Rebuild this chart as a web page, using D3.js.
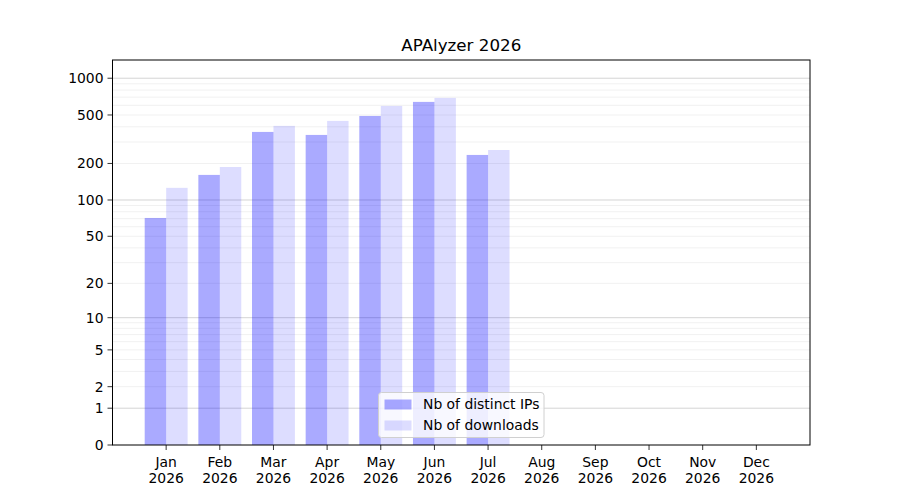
<!DOCTYPE html>
<html>
<head>
<meta charset="utf-8">
<script src="https://cdn.jsdelivr.net/npm/d3@7"></script>
<style>
  body { margin: 0; background: white; }
  svg { font-family: "DejaVu Sans", sans-serif; }
</style>
</head>
<body>
<div id="chart"></div>
<script>
const months = ["Jan", "Feb", "Mar", "Apr", "May", "Jun", "Jul", "Aug", "Sep", "Oct", "Nov", "Dec"]
const year = "2026"
const distinctIps = [71, 161, 363, 343, 491, 640, 235, 0, 0, 0, 0, 0]
const downloads = [126, 187, 407, 447, 593, 690, 258, 0, 0, 0, 0, 0]
const yTicks = [0, 1, 2, 5, 10, 20, 50, 100, 200, 500, 1000]
const majorGrid = [1, 10, 100, 1000]
const minorGrid = [2, 3, 4, 5, 6, 7, 8, 9, 20, 30, 40, 50, 60, 70, 80, 90, 200, 300, 400, 500, 600, 700, 800, 900]
const seriesNames = ["Nb of distinct IPs", "Nb of downloads"]

const width = 900, height = 500
const margin = {top: 60, right: 90, bottom: 55, left: 112.5}
const barWidth = 0.4

const svg = d3.select("#chart").append("svg")
  .attr("width", width)
  .attr("height", height)

// log10(1 + v) scale, same as symlog with constant 1
const x = d3.scaleLinear().domain([0, 13]).range([margin.left, width - margin.right])
const y = d3.scaleSymlog().constant(1).domain([0, 1410]).range([height - margin.bottom, margin.top])

const plotG = svg.append("g")

plotG.selectAll("line.minor")
  .data(minorGrid)
  .join("line")
    .attr("class", "minor")
    .attr("x1", x(0)).attr("x2", x(13))
    .attr("y1", d => y(d)).attr("y2", d => y(d))
    .attr("stroke", "#000").attr("stroke-opacity", 0.075).attr("stroke-width", 0.8)

plotG.selectAll("line.major")
  .data(majorGrid)
  .join("line")
    .attr("class", "major")
    .attr("x1", x(0)).attr("x2", x(13))
    .attr("y1", d => y(d)).attr("y2", d => y(d))
    .attr("stroke", "#000").attr("stroke-opacity", 0.22).attr("stroke-width", 0.8)

const series = [
  {name: seriesNames[0], values: distinctIps, offset: -barWidth, opacity: 0.333},
  {name: seriesNames[1], values: downloads, offset: 0, opacity: 0.133},
]

for (const s of series) {
  plotG.append("g")
    .selectAll("rect")
    .data(s.values)
    .join("rect")
      .attr("x", (_, i) => x(i + 1 + s.offset))
      .attr("width", x(barWidth) - x(0))
      .attr("y", d => y(d))
      .attr("height", d => y(0) - y(d))
      .attr("fill", "blue")
      .attr("fill-opacity", s.opacity)
}

// frame
svg.append("rect")
  .attr("x", x(0)).attr("y", margin.top)
  .attr("width", x(13) - x(0)).attr("height", height - margin.bottom - margin.top)
  .attr("fill", "none").attr("stroke", "black").attr("stroke-width", 1)

// x axis
const xAxis = svg.append("g").attr("transform", `translate(0,${height - margin.bottom})`)
const xTick = xAxis.selectAll("g")
  .data(months)
  .join("g")
    .attr("transform", (_, i) => `translate(${x(i + 1)},0)`)
xTick.append("line").attr("y2", 5).attr("stroke", "black").attr("stroke-width", 0.8)
xTick.append("text")
  .attr("text-anchor", "middle")
  .attr("font-size", 13.9)
  .selectAll("tspan")
  .data(d => [d, year])
  .join("tspan")
    .attr("x", 0)
    .attr("y", (_, i) => 22 + i * 15.5)
    .text(d => d)

// y axis
const yAxis = svg.append("g").attr("transform", `translate(${x(0)},0)`)
const yTick = yAxis.selectAll("g")
  .data(yTicks)
  .join("g")
    .attr("transform", d => `translate(0,${y(d)})`)
yTick.append("line").attr("x2", -5).attr("stroke", "black").attr("stroke-width", 0.8)
yTick.append("text")
  .attr("x", -9)
  .attr("dy", "0.35em")
  .attr("text-anchor", "end")
  .attr("font-size", 13.9)
  .text(d => d)

// title
svg.append("text")
  .attr("x", (x(0) + x(13)) / 2)
  .attr("y", 51)
  .attr("text-anchor", "middle")
  .attr("font-size", 16.7)
  .text(`APAlyzer ${year}`)

// legend
const legend = svg.append("g").attr("transform", "translate(378.5,392.5)")
legend.append("rect")
  .attr("width", 165.5).attr("height", 45)
  .attr("rx", 3)
  .attr("fill", "white").attr("fill-opacity", 0.8)
  .attr("stroke", "#d0d0d0").attr("stroke-width", 1)
const legendItem = legend.selectAll("g")
  .data(series)
  .join("g")
    .attr("transform", (_, i) => `translate(6,${7 + i * 21})`)
legendItem.append("rect")
  .attr("width", 27).attr("height", 10)
  .attr("fill", "blue")
  .attr("fill-opacity", d => d.opacity)
legendItem.append("text")
  .attr("x", 38.5)
  .attr("y", 5)
  .attr("dy", "0.35em")
  .attr("font-size", 13.9)
  .text(d => d.name)
</script>
</body>
</html>
